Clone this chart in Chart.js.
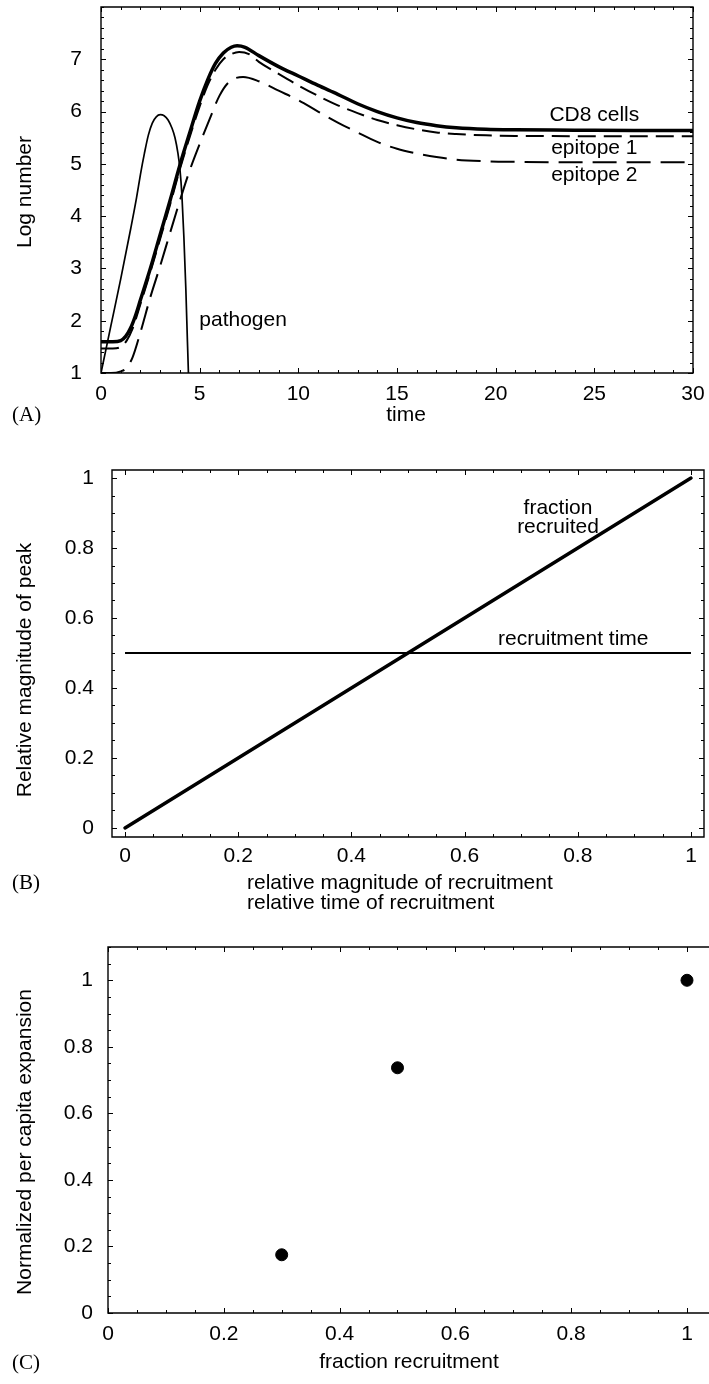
<!DOCTYPE html>
<html>
<head>
<meta charset="utf-8">
<script src="https://cdn.jsdelivr.net/npm/chart.js@4.4.1/dist/chart.umd.min.js"></script>
<style>
  html, body { margin: 0; padding: 0; background: #fff; overflow: hidden; }
  body { width: 709px; height: 1384px; position: relative; }
  canvas { position: absolute; left: 0; }
</style>
</head>
<body>
<canvas id="panelA" width="709" height="440" style="top:0px"></canvas>
<canvas id="panelB" width="709" height="480" style="top:440px"></canvas>
<canvas id="panelC" width="709" height="464" style="top:920px"></canvas>
<script>
// Panel A - log numbers over time
const cd8Time = [0, 0.6, 1.0, 1.25, 1.5, 1.75, 2.0, 2.5, 3.0, 3.5, 4.0, 4.5, 5.0, 5.4, 5.8, 6.2, 6.6, 6.9, 7.3, 8, 9, 10, 11, 12, 13, 14, 15, 16, 17, 18, 19.5, 21, 24, 27, 30];
const cd8Log = [1.6, 1.6, 1.62, 1.7, 1.86, 2.1, 2.4, 3.0, 3.65, 4.3, 4.98, 5.6, 6.2, 6.6, 6.92, 7.12, 7.23, 7.26, 7.23, 7.07, 6.86, 6.68, 6.5, 6.33, 6.15, 6.0, 5.88, 5.79, 5.73, 5.69, 5.66, 5.65, 5.645, 5.64, 5.64];

const epi1Time = [0, 0.6, 1.0, 1.3, 1.6, 2.0, 2.5, 3.0, 3.5, 4.0, 4.5, 5.0, 5.4, 5.8, 6.2, 6.6, 7.0, 7.5, 8, 9, 10, 11, 12, 13, 14, 15, 16, 17, 18, 19.5, 21, 24, 27, 30];
const epi1Log = [1.47, 1.47, 1.5, 1.62, 1.85, 2.32, 2.93, 3.57, 4.22, 4.9, 5.52, 6.1, 6.5, 6.8, 7.0, 7.1, 7.14, 7.1, 6.95, 6.72, 6.5, 6.3, 6.12, 5.97, 5.84, 5.74, 5.66, 5.6, 5.57, 5.545, 5.535, 5.53, 5.53, 5.53];

const epi2Time = [0, 0.5, 1.0, 1.3, 1.6, 2.0, 2.5, 3.0, 3.5, 4.0, 4.5, 5.0, 5.5, 6.0, 6.5, 7.2, 8, 9, 10, 11, 12, 13, 14, 15, 16, 17, 18, 19.5, 21, 24, 27, 30];
const epi2Log = [1.0, 1.0, 1.03, 1.1, 1.3, 1.78, 2.45, 3.05, 3.68, 4.3, 4.88, 5.38, 5.85, 6.3, 6.57, 6.66, 6.58, 6.4, 6.22, 6.0, 5.79, 5.6, 5.42, 5.29, 5.2, 5.13, 5.08, 5.05, 5.04, 5.03, 5.03, 5.03];

const pathTime = [0, 0.5, 1.0, 1.5, 1.8, 2.0, 2.2, 2.4, 2.6, 2.8, 3.0, 3.2, 3.4, 3.6, 3.75, 3.9, 4.0, 4.1, 4.2, 4.3, 4.38, 4.43, 4.46];
const pathLog = [1.0, 1.9, 2.8, 3.75, 4.35, 4.8, 5.2, 5.55, 5.78, 5.9, 5.94, 5.92, 5.84, 5.68, 5.5, 5.2, 4.9, 4.4, 3.6, 2.6, 1.6, 1.0, 0.5];

const timeTicks = [0, 5, 10, 15, 20, 25, 30];
const logTicks = [1, 2, 3, 4, 5, 6, 7];

// Panel B - relative magnitude of peak
const recruitX = [0, 1];
const fractionRecruited = [0, 1];
const recruitmentTime = [0.5, 0.5];
const bTicksX = [0, 0.2, 0.4, 0.6, 0.8, 1];
const bTicksY = [0, 0.2, 0.4, 0.6, 0.8, 1];

// Panel C - normalized per capita expansion
const fractionRecruitment = [0.3, 0.5, 1];
const perCapitaExpansion = [0.175, 0.737, 1.0];
const cTicksX = [0, 0.2, 0.4, 0.6, 0.8, 1];
const cTicksY = [0, 0.2, 0.4, 0.6, 0.8, 1];

const SANS = "'Liberation Sans', Arial, sans-serif";
const SERIF = "'Liberation Serif', 'Times New Roman', serif";

const toPoints = (xs, ys) => xs.map((x, i) => ({ x: x, y: ys[i] }));

// frame box with inward ticks; the right side can be left open (panel C runs off the page)
const frameTicks = {
  id: "frameTicks",
  afterDatasetsDraw(chart, args, opts) {
    const { ctx, chartArea: a } = chart;
    const xs = chart.scales.x;
    const ys = chart.scales.y;
    const right = opts.rightSide !== false;
    ctx.save();
    ctx.strokeStyle = "#000";
    ctx.lineWidth = 1;
    ctx.beginPath();
    const markX = (v, len) => {
      const px = Math.round(xs.getPixelForValue(v)) + 0.5;
      ctx.moveTo(px, a.bottom);
      ctx.lineTo(px, a.bottom - len);
      ctx.moveTo(px, a.top);
      ctx.lineTo(px, a.top + len);
    };
    const markY = (v, len) => {
      const py = Math.round(ys.getPixelForValue(v)) + 0.5;
      ctx.moveTo(a.left, py);
      ctx.lineTo(a.left + len, py);
      if (right) {
        ctx.moveTo(a.right, py);
        ctx.lineTo(a.right - len, py);
      }
    };
    const steps = (from, to, step) => {
      const out = [];
      const n = Math.round((to - from) / step);
      for (let i = 0; i <= n; i++) out.push(from + i * step);
      return out;
    };
    steps(opts.xMinor[0], opts.xMinor[1], opts.xMinor[2]).forEach((v) => markX(v, opts.minorLen));
    steps(opts.yMinor[0], opts.yMinor[1], opts.yMinor[2]).forEach((v) => markY(v, opts.minorLen));
    opts.xMajor.forEach((v) => markX(v, opts.majorLen));
    opts.yMajor.forEach((v) => markY(v, opts.majorLen));
    ctx.stroke();
    ctx.lineWidth = 1.4;
    ctx.beginPath();
    ctx.moveTo(a.right + (right ? 0 : 2), a.top);
    ctx.lineTo(a.left, a.top);
    ctx.lineTo(a.left, a.bottom);
    ctx.lineTo(a.right + (right ? 0 : 2), a.bottom);
    if (right) ctx.closePath();
    ctx.stroke();
    ctx.restore();
  },
};

// labels: in data coordinates (data: true) or canvas pixels
const notes = {
  id: "notes",
  afterDraw(chart, args, opts) {
    const { ctx } = chart;
    ctx.save();
    ctx.fillStyle = "#000";
    ctx.textBaseline = "middle";
    opts.items.forEach((it) => {
      let x = it.x;
      let y = it.y;
      if (it.data) {
        x = chart.scales.x.getPixelForValue(it.x);
        y = chart.scales.y.getPixelForValue(it.y);
      }
      ctx.font = (it.font || "21px " + SANS);
      ctx.textAlign = it.align || "center";
      ctx.save();
      ctx.translate(x, y);
      if (it.rotate) ctx.rotate(it.rotate);
      ctx.fillText(it.text, 0, 0);
      ctx.restore();
    });
    ctx.restore();
  },
};

const clearPadding = (s) => {
  s.paddingLeft = 0;
  s.paddingRight = 0;
  s.paddingTop = 0;
  s.paddingBottom = 0;
};

const fixedAxes = (xOpts, yOpts, xHeight, yWidth) => ({
  x: {
    type: "linear",
    min: xOpts.min,
    max: xOpts.max,
    grid: { display: false, drawTicks: false },
    border: { display: false },
    afterFit: (s) => { s.height = xHeight; clearPadding(s); },
    afterBuildTicks: (s) => { s.ticks = xOpts.tickValues.map((v) => ({ value: v })); },
    ticks: {
      color: "#000",
      font: { family: SANS, size: 21 },
      padding: xOpts.padding,
      autoSkip: false,
      maxRotation: 0,
      callback: (v) => String(v),
    },
  },
  y: {
    type: "linear",
    min: yOpts.min,
    max: yOpts.max,
    grid: { display: false, drawTicks: false },
    border: { display: false },
    afterFit: (s) => { s.width = yWidth; clearPadding(s); },
    afterBuildTicks: (s) => { s.ticks = yOpts.tickValues.map((v) => ({ value: v })); },
    ticks: {
      color: "#000",
      font: { family: SANS, size: 21 },
      padding: yOpts.padding,
      autoSkip: false,
      callback: (v) => String(v),
    },
  },
});

const baseOptions = (pad) => ({
  responsive: false,
  animation: false,
  layout: { padding: pad, autoPadding: false },
  plugins: { legend: { display: false }, tooltip: { enabled: false } },
  elements: { point: { radius: 0 } },
});

// Panel A
const optsA = baseOptions({ top: 7, right: 16, left: 0, bottom: 0 });
optsA.scales = fixedAxes(
  { min: 0, max: 30, tickValues: timeTicks, padding: 9 },
  { min: 1, max: 8, tickValues: logTicks, padding: 19 },
  67, 101
);
optsA.plugins.frameTicks = { xMajor: timeTicks, yMajor: logTicks, xMinor: [0, 30, 1], yMinor: [1, 8, 0.2], majorLen: 5, minorLen: 3 };
optsA.plugins.notes = {
  items: [
    { text: "CD8 cells", x: 25.0, y: 5.93, data: true },
    { text: "epitope 1", x: 25.0, y: 5.30, data: true },
    { text: "epitope 2", x: 25.0, y: 4.79, data: true },
    { text: "pathogen", x: 7.2, y: 2.01, data: true },
    { text: "Log number", x: 25, y: 192, rotate: -Math.PI / 2 },
    { text: "time", x: 406, y: 415 },
    { text: "(A)", x: 12, y: 415, align: "left", font: "21px " + SERIF },
  ],
};

new Chart(document.getElementById("panelA"), {
  type: "line",
  data: {
    datasets: [
      { label: "pathogen", data: toPoints(pathTime, pathLog), borderColor: "#000", borderWidth: 1.7, cubicInterpolationMode: "monotone" },
      { label: "epitope 2", data: toPoints(epi2Time, epi2Log), borderColor: "#000", borderWidth: 2, borderDash: [24, 10], cubicInterpolationMode: "monotone" },
      { label: "epitope 1", data: toPoints(epi1Time, epi1Log), borderColor: "#000", borderWidth: 2, borderDash: [18, 8], cubicInterpolationMode: "monotone" },
      { label: "CD8 cells", data: toPoints(cd8Time, cd8Log), borderColor: "#000", borderWidth: 3.5, cubicInterpolationMode: "monotone" },
    ],
  },
  options: optsA,
  plugins: [frameTicks, notes],
});

// Panel B
const optsB = baseOptions({ top: 30, right: 5, left: 0, bottom: 0 });
optsB.scales = fixedAxes(
  { min: -0.023, max: 1.023, tickValues: bTicksX, padding: 7 },
  { min: -0.026, max: 1.023, tickValues: bTicksY, padding: 18 },
  83, 112
);
optsB.plugins.frameTicks = { xMajor: bTicksX, yMajor: bTicksY, xMinor: [0, 1, 0.05], yMinor: [0, 1, 0.05], majorLen: 5, minorLen: 3 };
optsB.plugins.notes = {
  items: [
    { text: "fraction", x: 0.765, y: 0.914, data: true },
    { text: "recruited", x: 0.765, y: 0.86, data: true },
    { text: "recruitment time", x: 0.792, y: 0.54, data: true },
    { text: "Relative magnitude of peak", x: 25, y: 230, rotate: -Math.PI / 2 },
    { text: "relative magnitude of recruitment", x: 247, y: 443, align: "left" },
    { text: "relative time of recruitment", x: 247, y: 463, align: "left" },
    { text: "(B)", x: 12, y: 443, align: "left", font: "21px " + SERIF },
  ],
};

new Chart(document.getElementById("panelB"), {
  type: "line",
  data: {
    datasets: [
      { label: "recruitment time", data: toPoints(recruitX, recruitmentTime), borderColor: "#000", borderWidth: 2 },
      { label: "fraction recruited", data: toPoints(recruitX, fractionRecruited), borderColor: "#000", borderWidth: 3.5, borderCapStyle: "round" },
    ],
  },
  options: optsB,
  plugins: [frameTicks, notes],
});

// Panel C: the plot runs to the right page edge, so its right side is left open
const optsC = baseOptions({ top: 27, right: 0, left: 0, bottom: 0 });
optsC.scales = fixedAxes(
  { min: 0, max: 1.038, tickValues: cTicksX, padding: 9 },
  { min: 0, max: 1.1, tickValues: cTicksY, padding: 15 },
  71, 108
);
optsC.plugins.frameTicks = { xMajor: cTicksX, yMajor: cTicksY, xMinor: [0, 1.0, 0.05], yMinor: [0, 1.1, 0.05], majorLen: 5, minorLen: 3, rightSide: false };
optsC.plugins.notes = {
  items: [
    { text: "Normalized per capita expansion", x: 25, y: 222, rotate: -Math.PI / 2 },
    { text: "fraction recruitment", x: 409, y: 442 },
    { text: "(C)", x: 12, y: 443, align: "left", font: "21px " + SERIF },
  ],
};

new Chart(document.getElementById("panelC"), {
  type: "scatter",
  data: {
    datasets: [
      {
        label: "expansion",
        data: toPoints(fractionRecruitment, perCapitaExpansion),
        backgroundColor: "#000",
        borderColor: "#000",
        pointRadius: 6,
        pointHoverRadius: 6,
      },
    ],
  },
  options: optsC,
  plugins: [frameTicks, notes],
});
</script>
</body>
</html>
